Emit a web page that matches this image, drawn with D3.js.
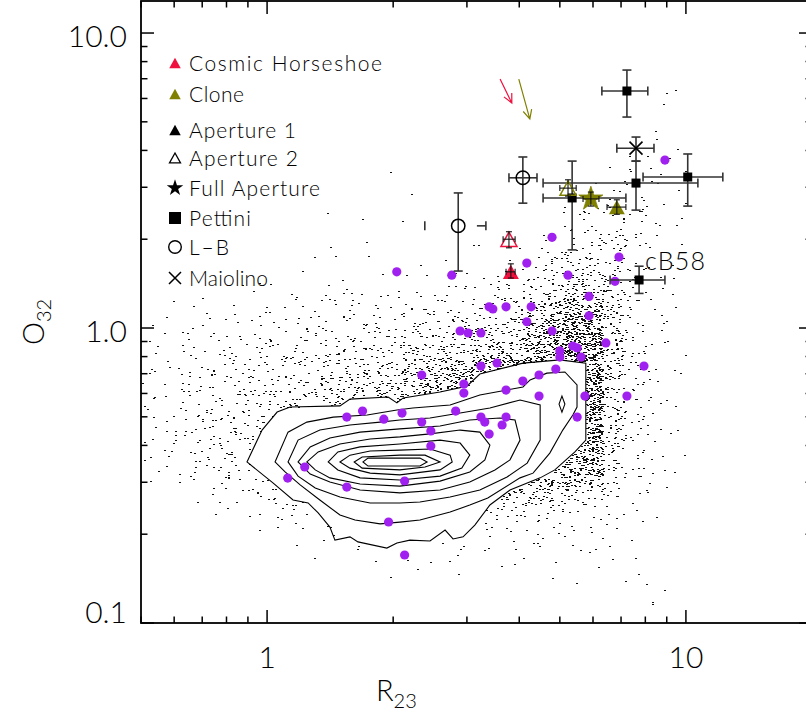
<!DOCTYPE html>
<html><head><meta charset="utf-8"><title>O32 vs R23</title>
<script src="https://cdn.jsdelivr.net/npm/d3@7/dist/d3.min.js"></script>
<style>html,body{margin:0;padding:0;background:#fff;}svg{display:block;font-family:Lato,'Open Sans',sans-serif;}</style>
</head><body>
<svg id="chart" width="806" height="724"></svg>
<script>
// ---------------- DATA ----------------
const xTicksMajor = [1, 10];
const xTickLabels = ["1", "10"];
const yTicksMajor = [0.1, 1, 10];
const yTickLabels = ["0.1", "1.0", "10.0"];

// comparison sample (purple points): R23, O32
const sampleR23 = [8.91,4.79,4.17,6.92,2.04,2.76,5.23,6.77,5.87,3.39,3.46,3.72,4.27,5.87,4.17,2.89,3.02,3.24,4.79,6.44,5.37,5.50,5.00,5.00,5.62,3.24,3.54,7.94,4.89,2.34,4.46,4.08,2.95,2.95,3.72,4.46,5.74,7.23,2.10,2.82,5.50,2.34,3.24,3.31,3.72,3.64,2.46,3.39,2.46,1.55,1.69,1.90,1.23,1.12,1.55,2.13,1.95,2.13];
const sampleO32 = [3.71,2.03,1.66,1.74,1.55,1.51,1.51,1.44,1.28,1.18,1.16,1.18,1.18,1.10,1.05,0.977,0.962,0.962,0.977,0.890,0.869,0.856,0.836,0.797,0.797,0.743,0.761,0.743,0.726,0.693,0.693,0.661,0.646,0.602,0.616,0.588,0.588,0.588,0.515,0.523,0.499,0.480,0.499,0.480,0.499,0.469,0.448,0.437,0.398,0.499,0.523,0.491,0.338,0.310,0.289,0.303,0.220,0.170];

// Pettini objects
const pettini = [
  {r:7.23, o:6.36, rLo:6.30, rHi:8.11, oLo:5.19, oHi:7.49},
  {r:7.60, o:3.10, rLo:4.56, rHi:10.68, oLo:2.51, oHi:3.68},
  {r:10.1, o:3.25, rLo:7.90, rHi:12.25, oLo:2.59, oHi:3.89},
  {r:5.35, o:2.76, rLo:4.56, rHi:7.19, oLo:1.84, oHi:3.68},
  {r:7.73, o:1.455, rLo:6.59, rHi:8.91, oLo:1.31, oHi:1.62, name:"cB58"}
];
// Maiolino
const maiolino = [{r:7.60, o:4.07, rLo:6.84, rHi:8.39, oLo:3.68, oHi:4.44}];
// L-B
const lowBright = [
  {r:4.08, o:3.23, rLo:3.78, rHi:4.41, oLo:2.65, oHi:3.80},
  {r:2.86, o:2.22, rLo:2.38, rHi:3.33, oLo:1.56, oHi:2.87, partial:true}
];
// Cosmic Horseshoe and Clone apertures
const horseshoe = [
  {ap:"1", r:3.82, o:1.55, rLo:3.72, rHi:3.91, oLo:1.477, oHi:1.65},
  {ap:"2", r:3.78, o:2.00, rLo:3.66, rHi:3.91, oLo:1.87, oHi:2.12}
];
const clone = [
  {ap:"1", r:6.84, o:2.57, rLo:6.48, rHi:7.19, oLo:2.43, oHi:2.72},
  {ap:"2", r:5.23, o:2.98, rLo:5.00, rHi:5.47, oLo:2.80, oHi:3.18},
  {ap:"full", r:5.93, o:2.74, rLo:5.68, rHi:6.20, oLo:2.59, oHi:2.89}
];
// reddening arrows [R23,O32] start -> end
const arrows = [
  {obj:"horseshoe", from:[3.60, 6.98], to:[3.84, 5.79]},
  {obj:"clone", from:[3.99, 6.98], to:[4.24, 5.11]}
];

// SDSS contours, vertices as [log10 R23, log10 O32], outermost first
const contourLog = [
 [[-0.048,-0.454],[-0.012,-0.346],[0.024,-0.285],[0.055,-0.268],[0.174,-0.264],[0.198,-0.241],[0.289,-0.234],[0.310,-0.254],[0.325,-0.237],[0.413,-0.217],[0.477,-0.197],[0.508,-0.156],[0.611,-0.119],[0.699,-0.108],[0.761,-0.119],[0.761,-0.380],[0.735,-0.420],[0.687,-0.481],[0.652,-0.508],[0.580,-0.549],[0.532,-0.600],[0.496,-0.668],[0.468,-0.708],[0.444,-0.715],[0.425,-0.685],[0.389,-0.722],[0.341,-0.719],[0.310,-0.729],[0.286,-0.746],[0.217,-0.725],[0.198,-0.708],[0.162,-0.719],[0.150,-0.675],[0.122,-0.627],[0.098,-0.593],[0.062,-0.583],[0.014,-0.525]],
 [[0.019,-0.454],[0.050,-0.353],[0.095,-0.319],[0.158,-0.302],[0.239,-0.295],[0.310,-0.278],[0.348,-0.271],[0.437,-0.261],[0.508,-0.227],[0.573,-0.210],[0.611,-0.200],[0.628,-0.176],[0.668,-0.153],[0.711,-0.149],[0.740,-0.193],[0.740,-0.268],[0.730,-0.295],[0.706,-0.346],[0.675,-0.424],[0.635,-0.492],[0.604,-0.508],[0.527,-0.576],[0.484,-0.600],[0.437,-0.624],[0.365,-0.651],[0.317,-0.658],[0.270,-0.664],[0.210,-0.651],[0.174,-0.634],[0.126,-0.583],[0.079,-0.532],[0.043,-0.488]],
 [[0.050,-0.454],[0.074,-0.380],[0.126,-0.346],[0.198,-0.329],[0.270,-0.319],[0.317,-0.312],[0.389,-0.305],[0.461,-0.288],[0.532,-0.271],[0.604,-0.244],[0.652,-0.261],[0.652,-0.380],[0.621,-0.458],[0.573,-0.505],[0.508,-0.549],[0.437,-0.573],[0.365,-0.590],[0.317,-0.593],[0.246,-0.593],[0.174,-0.573],[0.115,-0.542],[0.074,-0.502]],
 [[0.074,-0.454],[0.103,-0.403],[0.150,-0.373],[0.222,-0.353],[0.317,-0.342],[0.413,-0.332],[0.484,-0.312],[0.556,-0.305],[0.592,-0.312],[0.604,-0.380],[0.580,-0.447],[0.544,-0.481],[0.484,-0.522],[0.413,-0.549],[0.317,-0.559],[0.222,-0.549],[0.150,-0.522],[0.103,-0.495]],
 [[0.095,-0.454],[0.122,-0.420],[0.174,-0.393],[0.246,-0.376],[0.317,-0.369],[0.389,-0.359],[0.461,-0.346],[0.508,-0.353],[0.532,-0.397],[0.520,-0.447],[0.484,-0.488],[0.413,-0.519],[0.317,-0.536],[0.222,-0.529],[0.150,-0.508],[0.115,-0.481]],
 [[0.146,-0.454],[0.169,-0.420],[0.222,-0.403],[0.317,-0.393],[0.413,-0.380],[0.461,-0.390],[0.484,-0.431],[0.465,-0.475],[0.413,-0.502],[0.317,-0.515],[0.222,-0.508],[0.169,-0.481]],
 [[0.174,-0.454],[0.198,-0.431],[0.246,-0.417],[0.317,-0.414],[0.389,-0.410],[0.437,-0.431],[0.442,-0.454],[0.413,-0.481],[0.317,-0.498],[0.246,-0.492],[0.198,-0.475]],
 [[0.208,-0.454],[0.227,-0.437],[0.317,-0.431],[0.377,-0.431],[0.413,-0.454],[0.377,-0.471],[0.317,-0.481],[0.227,-0.475]],
 [[0.229,-0.454],[0.241,-0.441],[0.365,-0.441],[0.382,-0.454],[0.365,-0.468],[0.241,-0.468]],
 [[0.697,-0.258],[0.704,-0.231],[0.711,-0.258],[0.704,-0.285]]
];

// SDSS galaxy surface density outside contours: cells of 0.05 dex in log R23 (from -0.30) and log O32 (from +0.85 downward)
// entries: [row, first column, counts...]
const gridLogR0 = -0.30, gridLogO0 = 0.85, gridStep = 0.05;
const galaxyDensity = [
 [0,25,[1]],
 [1,24,[1,1]],
 [3,24,[1]],
 [4,24,[1,1]],
 [5,23,[1,1,1]],
 [6,11,[1,0,0,0,0,0,0,0,0,0,0,1,2,2,1]],
 [7,12,[1,0,0,0,0,0,0,0,0,1,2,3,2,1]],
 [8,20,[1,2,3,3,2,1]],
 [9,8,[1,0,1,0,1,0,0,0,0,0,0,0,2,4,5,4,2,1]],
 [10,19,[1,4,6,6,4,2,1]],
 [11,9,[1,1,0,0,0,0,1,1,0,1,3,6,8,7,4,2,1]],
 [12,8,[1,1,1,0,0,1,1,0,0,1,3,6,10,11,8,4,2,1]],
 [13,5,[1,0,1,0,1,0,1,1,1,1,1,2,3,5,10,15,15,10,5,2,1]],
 [14,2,[1,0,1,1,1,2,2,2,2,2,2,3,3,3,4,6,9,14,22,20,12,5,2,1]],
 [15,1,[1,1,1,1,2,2,2,3,3,3,3,4,4,5,5,7,9,13,28,42,38,14,5,2,1]],
 [16,0,[1,1,2,2,2,3,3,3,4,4,4,5,5,6,7,8,10,12,24,40,58,52,16,5,2,1]],
 [17,0,[1,2,2,3,3,4,4,5,5,5,6,6,8,9,10,12,14,16,32,50,72,64,18,6,2,1]],
 [18,0,[2,2,3,3,4,5,5,6,6,7,8,9,12,14,16,20,22,24,40,56,80,70,18,6,2,1]],
 [19,0,[2,3,3,4,5,6,6,7,8,9,10,12,16,22,28,34,36,38,50,60,80,70,16,5,2,1]],
 [20,0,[2,3,4,5,5,6,7,8,10,12,14,16,22,30,36,40,30,20,10,10,20,75,16,5,2,1]],
 [21,0,[2,3,4,5,6,7,8,10,12,14,16,18,22,25,25,20,20,20,20,20,45,75,16,5,2,1]],
 [22,0,[2,3,4,5,6,7,10,16,18,16,14,12,10,5,0,0,0,0,0,0,45,75,16,5,2,1]],
 [23,0,[2,3,5,6,7,8,8,0,0,0,0,0,0,0,0,0,0,0,0,0,35,70,14,5,2,1]],
 [24,0,[2,3,5,6,7,7,0,0,0,0,0,0,0,0,0,0,0,0,0,0,30,65,14,5,2,1]],
 [25,0,[2,3,4,5,6,6,0,0,0,0,0,0,0,0,0,0,0,0,0,0,35,55,12,4,2,1]],
 [26,0,[1,2,3,4,5,6,6,0,0,0,0,0,0,0,0,0,0,0,0,18,40,45,10,4,2,1]],
 [27,0,[1,1,2,3,4,5,8,10,0,0,0,0,0,0,0,0,0,14,22,30,35,20,8,3,2,1]],
 [28,2,[1,2,2,3,5,8,4,0,0,0,0,0,0,8,14,18,18,14,10,8,5,2,1]],
 [29,3,[1,1,2,3,4,4,2,0,0,0,0,3,5,6,6,5,4,4,3,3,2,1]],
 [30,5,[1,1,2,3,2,0,0,0,2,2,3,3,3,3,3,2,2,2,1]],
 [31,7,[1,1,1,1,0,0,1,1,2,2,2,2,2,2,2,1,1]],
 [32,8,[1,0,1,1,1,1,1,1,1,1,1,1,1,1,1,1]],
 [33,11,[1,0,1,0,1,0,1,0,1,0,1,0,1]],
 [34,20,[1,0,0,1,2]],
 [35,24,[2]]
];

// ---------------- CHART ----------------
const svg = d3.select("#chart");
const X0 = 141, X1 = 812, Y0 = 623, Y1 = 1;
const x = d3.scaleLog().domain([0.5, 20]).range([X0, X1]);
const y = d3.scaleLog().domain([0.1, 12.84]).range([Y0, Y1]);
const RED = "#f0103e", OLIVE = "#808000", PURPLE = "#a020f0", ERR = "#333";

svg.append("defs").append("clipPath").attr("id","plot")
  .append("rect").attr("x",X0).attr("y",Y1).attr("width",X1-X0).attr("height",Y0-Y1);
const plot = svg.append("g").attr("clip-path","url(#plot)");

// galaxy cloud: each cell's count is spread over the cell with a fixed hash (placement only)
function cellHash(a, b, c) { const s = Math.sin(a * 127.1 + b * 311.7 + c * 74.7) * 43758.5453; return s - Math.floor(s); }
const outer = contourLog[0];
const dots = [];
galaxyDensity.forEach(([row, c0, vals]) => {
  vals.forEach((n, k) => {
    const col = c0 + k;
    for (let i = 0; i < n; i++) {
      const u = cellHash(row, col, i + 0.31);
      const v = cellHash(col + 0.57, row + 1.9, i * 1.73 + 5.1);
      const lr = gridLogR0 + gridStep * (col + u);
      const lo = gridLogO0 - gridStep * (row + v);
      if (d3.polygonContains(outer, [lr, lo])) continue;
      dots.push([Math.pow(10, lr), Math.pow(10, lo)]);
    }
  });
});
plot.append("g").attr("shape-rendering","crispEdges").selectAll("rect").data(dots).join("rect")
  .attr("x", d => Math.round(x(d[0]))).attr("y", d => Math.round(y(d[1])))
  .attr("width", 2).attr("height", 1).attr("fill", "#111");

// contours
const cline = d3.line().x(d => x(Math.pow(10, d[0]))).y(d => y(Math.pow(10, d[1]))).curve(d3.curveLinearClosed);
plot.append("g").selectAll("path").data(contourLog).join("path")
  .attr("d", cline).attr("fill","none").attr("stroke","#000").attr("stroke-width",1.1);

// purple comparison sample
plot.append("g").selectAll("circle").data(sampleR23.map((r,i)=>[r,sampleO32[i]])).join("circle")
  .attr("cx", d => x(d[0])).attr("cy", d => y(d[1])).attr("r", 4.6).attr("fill", PURPLE);

// error bars
function errBars(g, d, col, w, cap, partial) {
  const cx = x(d.r), cy = y(d.o);
  const xl = x(d.rLo), xh = x(d.rHi), yl = y(d.oLo), yh = y(d.oHi);
  if (partial) {
    g.append("line").attr("x1", xh - 9).attr("x2", xh).attr("y1", cy).attr("y2", cy).attr("stroke", col).attr("stroke-width", w);
  } else {
    g.append("line").attr("x1", xl).attr("x2", xh).attr("y1", cy).attr("y2", cy).attr("stroke", col).attr("stroke-width", w);
  }
  g.append("line").attr("x1", cx).attr("x2", cx).attr("y1", yl).attr("y2", yh).attr("stroke", col).attr("stroke-width", w);
  [xl, xh].forEach(xx => g.append("line").attr("x1", xx).attr("x2", xx).attr("y1", cy - cap).attr("y2", cy + cap).attr("stroke", col).attr("stroke-width", w));
  [yl, yh].forEach(yy => g.append("line").attr("x1", cx - cap).attr("x2", cx + cap).attr("y1", yy).attr("y2", yy).attr("stroke", col).attr("stroke-width", w));
}
const mk = svg.append("g");
pettini.forEach(d => errBars(mk, d, ERR, 1.6, 4.5));
maiolino.forEach(d => errBars(mk, d, ERR, 1.6, 4.5));
lowBright.forEach(d => errBars(mk, d, ERR, 1.6, 4.5, d.partial));

// markers
mk.selectAll("rect.p").data(pettini).join("rect").attr("class","p")
  .attr("x", d => x(d.r) - 4.5).attr("y", d => y(d.o) - 4.5).attr("width", 9).attr("height", 9).attr("fill", "#000");
maiolino.forEach(d => {
  const cx = x(d.r), cy = y(d.o), s = 6.5;
  mk.append("path").attr("d", `M${cx-s},${cy-s}L${cx+s},${cy+s}M${cx-s},${cy+s}L${cx+s},${cy-s}`).attr("stroke","#000").attr("stroke-width",1.6);
});
mk.selectAll("circle.lb").data(lowBright).join("circle").attr("class","lb")
  .attr("cx", d => x(d.r)).attr("cy", d => y(d.o)).attr("r", 6.7).attr("fill","none").attr("stroke","#000").attr("stroke-width",1.5);

function tri(cx, cy, w) { const h = w * 0.9; return `M${cx},${cy - h/2}L${cx + w/2},${cy + h/2}L${cx - w/2},${cy + h/2}Z`; }
const star = d3.symbol().type(d3.symbolStar);
function drawObj(list, col) {
  list.forEach(d => {
    const cx = x(d.r), cy = y(d.o);
    if (d.ap === "1") mk.append("path").attr("d", tri(cx, cy, 16)).attr("fill", col);
    else if (d.ap === "2") mk.append("path").attr("d", tri(cx, cy, 16)).attr("fill", "none").attr("stroke", col).attr("stroke-width", 1.5);
    else mk.append("path").attr("d", star.size(180)()).attr("transform", `translate(${cx},${cy})`).attr("fill", col).attr("stroke", col).attr("stroke-width", 0.8);
    errBars(mk, d, "#111", 1.1, 3);
  });
}
drawObj(horseshoe, RED);
drawObj(clone, OLIVE);

// arrows
arrows.forEach(a => {
  const col = a.obj === "horseshoe" ? RED : OLIVE;
  const x0 = x(a.from[0]), y0 = y(a.from[1]), x1 = x(a.to[0]), y1 = y(a.to[1]);
  const ang = Math.atan2(y1 - y0, x1 - x0), L = 10, sp = 0.45;
  const p1 = [x1 - L * Math.cos(ang - sp), y1 - L * Math.sin(ang - sp)];
  const p2 = [x1 - L * Math.cos(ang + sp), y1 - L * Math.sin(ang + sp)];
  mk.append("path").attr("d", `M${x0},${y0}L${x1},${y1}M${p1[0]},${p1[1]}L${x1},${y1}L${p2[0]},${p2[1]}`)
    .attr("fill","none").attr("stroke", col).attr("stroke-width", 1.2);
});

// cB58 label
pettini.filter(d => d.name).forEach(d => {
  mk.append("text").attr("x", x(d.r) + 6).attr("y", y(d.o) - 10).attr("font-size", 25).attr("font-weight", 300)
    .attr("textLength", 60).attr("lengthAdjust","spacing").text(d.name);
});

// frame and ticks
const ax = svg.append("g").attr("stroke", "#000");
ax.append("rect").attr("x", X0).attr("y", Y1).attr("width", X1 - X0).attr("height", Y0 - Y1).attr("fill","none").attr("stroke-width", 1.8);
function logTicks(dom) {
  const out = [];
  for (let e = -2; e <= 2; e++) for (let m = 1; m <= 9; m++) {
    const v = +(m * Math.pow(10, e)).toPrecision(6);
    if (v >= dom[0] * 0.999 && v <= dom[1] * 1.001) out.push({v, major: m === 1});
  }
  return out;
}
logTicks(x.domain()).forEach(t => {
  const L = t.major ? 13 : 6.5, xx = x(t.v);
  ax.append("line").attr("x1", xx).attr("x2", xx).attr("y1", Y0).attr("y2", Y0 - L).attr("stroke-width", 1.5);
  ax.append("line").attr("x1", xx).attr("x2", xx).attr("y1", Y1).attr("y2", Y1 + L).attr("stroke-width", 1.5);
});
logTicks(y.domain()).forEach(t => {
  const L = t.major ? 13 : 6.5, yy = y(t.v);
  ax.append("line").attr("x1", X0).attr("x2", X0 + L).attr("y1", yy).attr("y2", yy).attr("stroke-width", 1.5);
  ax.append("line").attr("x1", X1).attr("x2", X1 - L).attr("y1", yy).attr("y2", yy).attr("stroke-width", 1.5);
});
const lab = svg.append("g").attr("font-size", 30).attr("font-weight", 300).attr("fill", "#000");
xTicksMajor.forEach((v, i) => lab.append("text").attr("x", x(v)).attr("y", 668).attr("text-anchor","middle").text(xTickLabels[i]));
yTicksMajor.forEach((v, i) => lab.append("text").attr("x", 127).attr("y", Math.min(y(v) + 14, Y0)).attr("text-anchor","end").text(yTickLabels[i]));

// axis titles
const tx = svg.append("text").attr("x", 376).attr("y", 701).attr("font-size", 29).attr("font-weight", 300);
tx.append("tspan").text("R");
tx.append("tspan").attr("dy", 7).attr("font-size", 20).text("23");
const ty = svg.append("text").attr("transform", "translate(44,345) rotate(-90)").attr("font-size", 29).attr("font-weight", 300);
ty.append("tspan").text("O");
ty.append("tspan").attr("dy", 7).attr("font-size", 20).text("32");

// legend
const legendItems = [
  {label:"Cosmic Horseshoe", glyph:"triF", col:RED, yc:63, w:193},
  {label:"Clone", glyph:"triF", col:OLIVE, yc:94, w:55},
  {label:"Aperture 1", glyph:"triF", col:"#000", yc:130, w:107},
  {label:"Aperture 2", glyph:"triO", col:"#000", yc:158, w:109},
  {label:"Full Aperture", glyph:"star", col:"#000", yc:188, w:131},
  {label:"Pettini", glyph:"sq", col:"#000", yc:218, w:62},
  {label:"L\u2013B", glyph:"circ", col:"#000", yc:247, w:40},
  {label:"Maiolino", glyph:"x", col:"#000", yc:278, w:79}
];
const lg = svg.append("g");
legendItems.forEach(it => {
  const cx = 175, cy = it.yc;
  if (it.glyph === "triF") lg.append("path").attr("d", tri(cx, cy, 11.5)).attr("fill", it.col);
  if (it.glyph === "triO") lg.append("path").attr("d", tri(cx, cy, 11)).attr("fill", "none").attr("stroke", it.col).attr("stroke-width", 1.3);
  if (it.glyph === "star") lg.append("path").attr("d", star.size(85)()).attr("transform", `translate(${cx},${cy})`).attr("fill", it.col);
  if (it.glyph === "sq") lg.append("rect").attr("x", cx - 6).attr("y", cy - 6).attr("width", 12).attr("height", 12).attr("fill", it.col);
  if (it.glyph === "circ") lg.append("circle").attr("cx", cx).attr("cy", cy).attr("r", 6.3).attr("fill","none").attr("stroke", it.col).attr("stroke-width", 1.4);
  if (it.glyph === "x") lg.append("path").attr("d", `M${cx-6},${cy-6}L${cx+6},${cy+6}M${cx-6},${cy+6}L${cx+6},${cy-6}`).attr("stroke", it.col).attr("stroke-width", 1.5);
  lg.append("text").attr("x", 189).attr("y", cy + 8).attr("font-size", 21).attr("font-weight", 300)
    .attr("textLength", it.w).attr("lengthAdjust", "spacing").text(it.label);
});
</script></body></html>
